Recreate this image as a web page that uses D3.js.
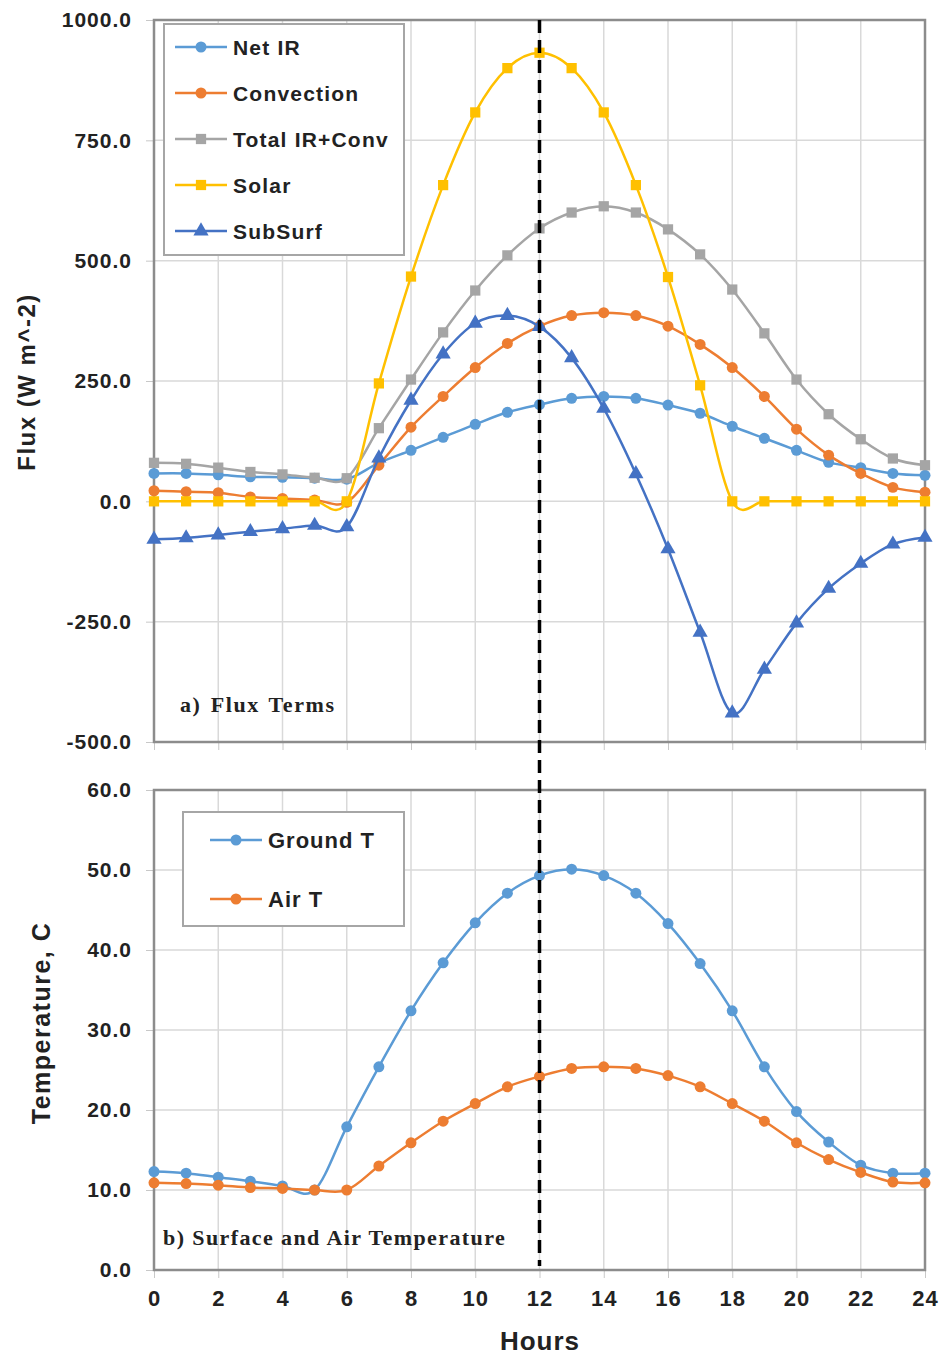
<!DOCTYPE html>
<html>
<head>
<meta charset="utf-8">
<script src="https://cdn.jsdelivr.net/npm/d3@7"></script>
<style>
body{margin:0;background:#fff;}
svg{display:block;}
.tick text{font-family:Arial,"Liberation Sans",sans-serif;font-weight:bold;fill:#222;}
</style>
</head>
<body>
<svg id="chart" width="945" height="1357"></svg>
<script>
// ---------- DATA ----------
var hours = d3.range(0,25);

var netIR   = [58,58,55,51,50,48,46,80,106,133,160,185,201,214,218,214,200,183,156,131,106,81,70,58,54];
var convect = [22,20,18,9,6,3,-2,75,154,218,278,328,364,386,392,386,364,326,278,218,150,96,58,29,19];
var totalIR = [80,78,70,61,56,49,48,152,253,351,438,511,567,600,613,600,565,513,440,349,253,181,129,89,75];
var solar   = [0,0,0,0,0,0,0,245,467,657,808,900,932,900,808,657,466,241,0,0,0,0,0,0,0];
var subSurf = [-79,-76,-70,-63,-57,-50,-53,90,210,306,370,386,363,298,193,57,-99,-272,-440,-349,-253,-181,-129,-89,-75];

var groundT = [12.3,12.1,11.6,11.1,10.5,10.0,17.9,25.4,32.4,38.4,43.4,47.1,49.3,50.1,49.3,47.1,43.3,38.3,32.4,25.4,19.8,16.0,13.1,12.1,12.1];
var airT    = [10.9,10.8,10.6,10.3,10.2,10.0,10.0,13.0,15.9,18.6,20.8,22.9,24.2,25.2,25.4,25.2,24.3,22.9,20.8,18.6,15.9,13.8,12.2,11.0,10.9];

var fluxTicks = [-500,-250,0,250,500,750,1000];
var tempTicks = [0,10,20,30,40,50,60];
var hourTicks = [0,2,4,6,8,10,12,14,16,18,20,22,24];
var noonHour = 12;

var fluxSeries = [
	{name:'Net IR', values:netIR, color:'#5B9BD5', shape:'circle'},
	{name:'Convection', values:convect, color:'#ED7D31', shape:'circle'},
	{name:'Total IR+Conv', values:totalIR, color:'#A5A5A5', shape:'square'},
	{name:'Solar', values:solar, color:'#FFC000', shape:'square'},
	{name:'SubSurf', values:subSurf, color:'#4472C4', shape:'triangle'}
];
var tempSeries = [
	{name:'Ground T', values:groundT, color:'#5B9BD5', shape:'circle'},
	{name:'Air T', values:airT, color:'#ED7D31', shape:'circle'}
];

// ---------- LAYOUT ----------
var left = 154, right = 925;
var top1 = 20, bot1 = 742;
var top2 = 790, bot2 = 1270;
var sans = 'Arial,"Liberation Sans",sans-serif';
var serif = '"Times New Roman","Liberation Serif",serif';

var svg = d3.select('#chart');

var xScale = d3.scaleLinear().domain([0,24]).range([left,right]);
var yFlux = d3.scaleLinear().domain([-500,1000]).range([bot1,top1]);
var yTemp = d3.scaleLinear().domain([0,60]).range([bot2,top2]);

// excel style labels, plain hyphen for negatives
var fmt1 = d=>d3.format('.1f')(d).replace('\u2212','-');

var symbolGen = {
	circle:d3.symbol().type(d3.symbolCircle).size(95),
	square:d3.symbol().type(d3.symbolSquare).size(105),
	triangle:d3.symbol().type(d3.symbolTriangle).size(100)
};

function drawPanel(yScale, ticks, series, top, bot){
	var g = svg.append('g');

	// grid
	g.selectAll('.hgrid').data(ticks).enter().append('line')
	.attr('x1',left).attr('x2',right)
	.attr('y1',d=>yScale(d)).attr('y2',d=>yScale(d))
	.attr('stroke','#d9d9d9').attr('stroke-width',1.5);

	g.selectAll('.vgrid').data(hourTicks).enter().append('line')
	.attr('x1',d=>xScale(d)).attr('x2',d=>xScale(d))
	.attr('y1',top).attr('y2',bot)
	.attr('stroke','#d9d9d9').attr('stroke-width',1.5);

	// axes
	var yAxis = d3.axisLeft(yScale).tickValues(ticks).tickSize(8).tickPadding(14)
	.tickFormat(fmt1);
	var ya = g.append('g').attr('transform','translate('+left+',0)').call(yAxis);
	ya.selectAll('text').style('font-size','21px').style('letter-spacing','1px');
	ya.selectAll('line').attr('stroke','#c8c8c8');
	ya.select('.domain').remove();

	var xAxis = d3.axisBottom(xScale).tickValues(hourTicks).tickSize(8).tickFormat('');
	var xa = g.append('g').attr('transform','translate(0,'+bot+')').call(xAxis);
	xa.selectAll('line').attr('stroke','#c8c8c8');
	xa.select('.domain').remove();

	// frame
	g.append('rect')
	.attr('x',left).attr('y',top)
	.attr('width',right-left).attr('height',bot-top)
	.attr('fill','none').attr('stroke','#8c8c8c').attr('stroke-width',2.5);

	// lines + markers
	series.forEach(function(s){
		var lineGen = d3.line()
		.x((d,i)=>xScale(hours[i]))
		.y(d=>yScale(d))
		.curve(d3.curveCatmullRom.alpha(0));

		g.append('path')
		.attr('d',lineGen(s.values))
		.attr('fill','none')
		.attr('stroke',s.color)
		.attr('stroke-width',2.5);

		g.selectAll(null).data(s.values).enter().append('path')
		.attr('d',symbolGen[s.shape])
		.attr('transform',(d,i)=>'translate('+xScale(hours[i])+','+yScale(d)+')')
		.attr('fill',s.color);
	});
	return g;
}

drawPanel(yFlux, fluxTicks, fluxSeries, top1, bot1);
drawPanel(yTemp, tempTicks, tempSeries, top2, bot2);

// bottom x labels
var xLab = svg.append('g').attr('transform','translate(0,'+bot2+')')
.call(d3.axisBottom(xScale).tickValues(hourTicks).tickSize(0).tickPadding(20));
xLab.select('.domain').remove();
xLab.selectAll('text').style('font-size','22px').style('letter-spacing','1px');

// legends
function drawLegend(series, x, y, w, h, rowGap, firstRow, lineX1, lineX2, textX, fs, ls){
	var lg = svg.append('g');
	lg.append('rect')
	.attr('x',x).attr('y',y).attr('width',w).attr('height',h)
	.attr('fill','#fff').attr('stroke','#a6a6a6').attr('stroke-width',2);

	var rows = lg.selectAll('.row').data(series).enter().append('g')
	.attr('transform',(d,i)=>'translate(0,'+(firstRow+i*rowGap)+')');

	rows.append('line')
	.attr('x1',lineX1).attr('x2',lineX2)
	.attr('stroke',d=>d.color).attr('stroke-width',2.5);

	rows.append('path')
	.attr('d',d=>symbolGen[d.shape]())
	.attr('transform','translate('+((lineX1+lineX2)/2)+',0)')
	.attr('fill',d=>d.color);

	rows.append('text')
	.text(d=>d.name)
	.attr('x',textX).attr('y',8)
	.style('font-family',sans).style('font-weight','bold')
	.style('font-size',fs+'px').style('letter-spacing',ls+'px')
	.attr('fill','#222');
}

drawLegend(fluxSeries, 164, 24, 240, 231, 46, 47, 175, 227, 233, 21, 1.2);
drawLegend(tempSeries, 183, 812, 221, 114, 59, 840, 210, 262, 268, 22, 1);

// panel labels
svg.append('text').text('a) Flux  Terms')
.attr('x',180).attr('y',712)
.style('font-family',serif).style('font-weight','bold').style('font-size','22px')
.style('letter-spacing','1.6px').style('word-spacing','2px')
.attr('fill','#222');

svg.append('text').text('b)  Surface and  Air Temperature')
.attr('x',163).attr('y',1245)
.style('font-family',serif).style('font-weight','bold').style('font-size','22px')
.style('letter-spacing','1.4px')
.attr('fill','#222');

// axis titles
svg.append('text').text('Flux (W m^-2)')
.attr('transform','translate(35,382) rotate(-90)')
.attr('text-anchor','middle')
.style('font-family',sans).style('font-weight','bold').style('font-size','24px')
.style('letter-spacing','1.5px')
.attr('fill','#222');

svg.append('text').text('Temperature, C')
.attr('transform','translate(50,1023) rotate(-90)')
.attr('text-anchor','middle')
.style('font-family',sans).style('font-weight','bold').style('font-size','25px')
.style('letter-spacing','1.5px')
.attr('fill','#222');

svg.append('text').text('Hours')
.attr('x',540).attr('y',1350)
.attr('text-anchor','middle')
.style('font-family',sans).style('font-weight','bold').style('font-size','26px')
.style('letter-spacing','1px')
.attr('fill','#222');

// noon dashed line
svg.append('line')
.attr('x1',xScale(noonHour)).attr('x2',xScale(noonHour))
.attr('y1',top1).attr('y2',bot2-4)
.attr('stroke','#000').attr('stroke-width',3.5)
.attr('stroke-dasharray','13,7');
</script>
</body>
</html>
